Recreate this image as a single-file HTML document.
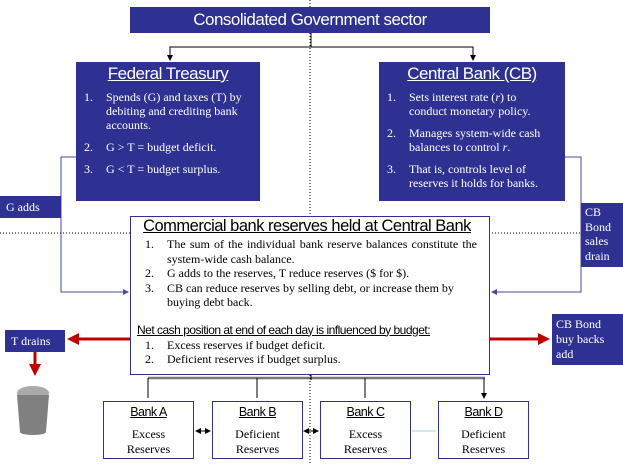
<!DOCTYPE html>
<html><head><style>
body{margin:0;width:623px;height:465px;position:relative;background:#fff;overflow:hidden;font-family:"Liberation Serif",serif;}
.b{position:absolute;background:#2e3192;color:#fff;box-sizing:border-box;}
.w{position:absolute;background:#fff;border:1.5px solid #2e3192;box-sizing:border-box;}
.h{font-family:"Liberation Sans",sans-serif;text-align:center;text-decoration:underline;letter-spacing:-0.5px;}
ol{margin:0;padding:0;list-style:none;}
li{position:relative;padding-left:30px;}
li span{position:absolute;left:8px;}
.bank{top:401px;width:91px;height:58px;text-align:center;font-size:12px;line-height:15px;color:#000;}
.bank .h{font-size:12.5px;margin:3px 0 7px;}
</style></head><body>
<svg width="623" height="465" style="position:absolute;left:0;top:0">
<defs>
<marker id="a" markerWidth="6" markerHeight="6" refX="5" refY="3" orient="auto"><path d="M0,0L6,3L0,6z" fill="#000"/></marker>
<marker id="as" markerWidth="6" markerHeight="6" refX="1" refY="3" orient="auto"><path d="M6,0L0,3L6,6z" fill="#000"/></marker>
<marker id="bl" markerWidth="6" markerHeight="6" refX="5" refY="3" orient="auto"><path d="M0,0L6,3L0,6z" fill="#4a4aa0"/></marker>
<marker id="r" markerWidth="4" markerHeight="4" refX="3" refY="2" orient="auto"><path d="M0,0L4,2L0,4z" fill="#c00000"/></marker>
</defs>
<path d="M311,33V47H170V60" stroke="#000" fill="none" marker-end="url(#a)"/>
<path d="M311,47H473V60" stroke="#000" fill="none" marker-end="url(#a)"/>
<path d="M76,157H61V292H128" stroke="#4a4aa0" fill="none" marker-end="url(#bl)"/>
<path d="M565,157H581V292H492" stroke="#4a4aa0" fill="none" marker-end="url(#bl)"/>
<path d="M130,339H70" stroke="#c00000" stroke-width="3" fill="none" marker-end="url(#r)"/>
<path d="M490,339H547" stroke="#c00000" stroke-width="3" fill="none" marker-end="url(#r)"/>
<path d="M35,352V373" stroke="#c00000" stroke-width="3" fill="none" marker-end="url(#r)"/>
<path d="M148,378H485" stroke="#777" stroke-width="2.5" fill="none"/>
<path d="M148,378V398M257,378V398M365,378V398M484,378V398" stroke="#000" fill="none" marker-end="url(#a)"/>
<path d="M311,375V380" stroke="#000"/>
<line x1="310" y1="0" x2="310" y2="465" stroke="#000" stroke-dasharray="1,2"/>
<line x1="0" y1="233" x2="623" y2="233" stroke="#000" stroke-dasharray="1,2"/>
<path d="M196,431H210" stroke="#000" marker-end="url(#a)" marker-start="url(#as)"/>
<path d="M304,431H318" stroke="#000" marker-end="url(#a)" marker-start="url(#as)"/>
<path d="M412,431H436" stroke="#aad4e0" fill="none"/>
<g><ellipse cx="33" cy="393" rx="16" ry="7" fill="#aaa"/><path d="M17,395h32l-3,37h-26z" fill="#808080"/><ellipse cx="33" cy="432" rx="13" ry="3" fill="#808080"/></g>
</svg>
<div class="b h" style="left:130px;top:7px;width:360px;height:26px;font-size:17px;line-height:26px;text-decoration:none">Consolidated Government sector</div>
<div class="b" style="left:76px;top:62px;width:184px;height:139px;font-size:12px;line-height:14px;padding-right:12px">
<div class="h" style="font-size:17px;margin:5px 0 9px;padding-left:12px">Federal Treasury</div>
<ol><li><span>1.</span>Spends (G) and taxes (T) by debiting and crediting bank accounts.</li><li style="margin-top:8px"><span>2.</span>G &gt; T = budget deficit.</li><li style="margin-top:8px"><span>3.</span>G &lt; T = budget surplus.</li></ol></div>
<div class="b" style="left:379px;top:62px;width:186px;height:139px;font-size:12px;line-height:14px;padding-right:14px">
<div class="h" style="font-size:17px;margin:5px 0 9px;padding-left:14px">Central Bank (CB)</div>
<ol><li><span>1.</span>Sets interest rate (<i>r</i>) to<br>conduct monetary policy.</li><li style="margin-top:8px"><span>2.</span>Manages system-wide cash balances to control <i>r</i>.</li><li style="margin-top:8px"><span>3.</span>That is, controls level of reserves it holds for banks.</li></ol></div>
<div class="b" style="left:0;top:196px;width:61px;height:22px;font-size:12px;line-height:22px;padding-left:6px">G adds</div>
<div class="b" style="left:581px;top:203px;width:42px;height:64px;font-size:12px;line-height:14.5px;padding:2px 0 0 4px">CB Bond sales drain</div>
<div class="w" style="left:130px;top:216px;width:360px;height:159px;font-size:12px;line-height:14.5px;color:#000;padding:0 12px 0 6px">
<div class="h" style="font-size:16.5px;margin:0 0 1px;line-height:19px">Commercial bank reserves held at Central Bank</div>
<ol><li style="text-align:justify"><span>1.</span>The sum of the individual bank reserve balances constitute the system-wide cash balance.</li><li><span>2.</span>G adds to the reserves, T reduce reserves ($ for $).</li><li><span>3.</span>CB can reduce reserves by selling debt, or increase them by buying debt back.</li></ol>
<div style="font-family:'Liberation Sans',sans-serif;text-decoration:underline;margin-top:12px;font-size:12px;letter-spacing:-0.5px;line-height:16px">Net cash position at end of each day is influenced by budget:</div>
<ol><li><span>1.</span>Excess reserves if budget deficit.</li><li><span>2.</span>Deficient reserves if budget surplus.</li></ol></div>
<div class="b" style="left:5px;top:330px;width:60px;height:22px;font-size:12px;line-height:22px;padding-left:6px">T drains</div>
<div class="b" style="left:552px;top:314px;width:71px;height:51px;font-size:12px;line-height:15px;padding:3px 8px 0 4px">CB Bond buy backs add</div>
<div class="w bank" style="left:103px"><div class="h">Bank A</div>Excess<br>Reserves</div>
<div class="w bank" style="left:212px"><div class="h">Bank B</div>Deficient<br>Reserves</div>
<div class="w bank" style="left:320px"><div class="h">Bank C</div>Excess<br>Reserves</div>
<div class="w bank" style="left:438px"><div class="h">Bank D</div>Deficient<br>Reserves</div>
</body></html>
